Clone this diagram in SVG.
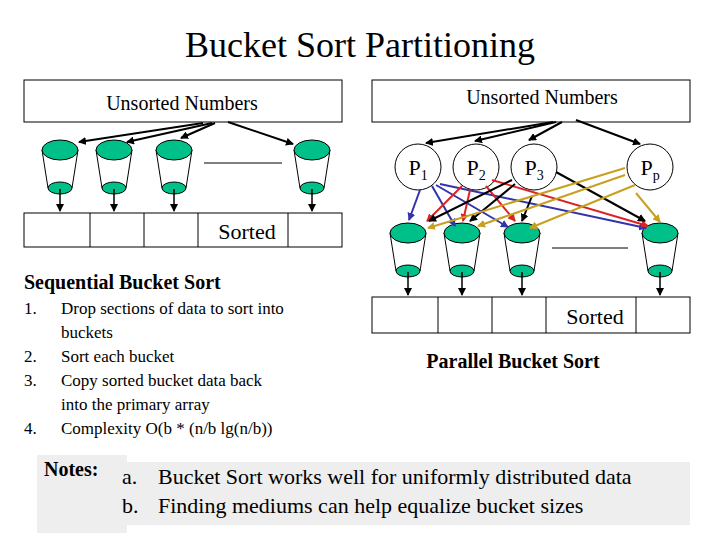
<svg xmlns="http://www.w3.org/2000/svg" width="720" height="540" viewBox="0 0 720 540" font-family="'Liberation Serif', 'Times New Roman', 'DejaVu Serif', serif">
<defs>
<marker id="ak" markerWidth="8" markerHeight="8" refX="7" refY="4" orient="auto" markerUnits="userSpaceOnUse"><path d="M0,0 L8,4 L0,8 z" fill="#000"/></marker>
<marker id="ab" markerWidth="8" markerHeight="8" refX="7" refY="4" orient="auto" markerUnits="userSpaceOnUse"><path d="M0,0 L8,4 L0,8 z" fill="#3333aa"/></marker>
<marker id="ar" markerWidth="8" markerHeight="8" refX="7" refY="4" orient="auto" markerUnits="userSpaceOnUse"><path d="M0,0 L8,4 L0,8 z" fill="#dd2222"/></marker>
<marker id="ag" markerWidth="8" markerHeight="8" refX="7" refY="4" orient="auto" markerUnits="userSpaceOnUse"><path d="M0,0 L8,4 L0,8 z" fill="#c8a020"/></marker>
<g id="bucket">
<path d="M-18,0 L-12,38 M18,0 L12,38" stroke="#000" fill="none"/>
<ellipse cx="0" cy="0" rx="18" ry="10" fill="#00c08a" stroke="#000"/>
<ellipse cx="0" cy="38" rx="12" ry="6" fill="#00c08a" stroke="#000"/>
</g>
</defs>
<style>
text{font-family:'Liberation Serif','Times New Roman','DejaVu Serif',serif;fill:#000}
.box{fill:#fff;stroke:#000;stroke-width:1}
.k{stroke:#000;stroke-width:2;fill:none;marker-end:url(#ak)}
.d{stroke:#000;stroke-width:1.5;fill:none;marker-end:url(#ak)}
.b{stroke:#3333aa;stroke-width:2;fill:none;marker-end:url(#ab)}
.r{stroke:#dd2222;stroke-width:2;fill:none;marker-end:url(#ar)}
.g{stroke:#c8a020;stroke-width:2;fill:none;marker-end:url(#ag)}
</style>
<rect width="720" height="540" fill="#fff"/>
<text x="360" y="57" font-size="36" text-anchor="middle">Bucket Sort Partitioning</text>

<g id="left-top"><rect class="box" x="24" y="80" width="318" height="42"/><text x="182" y="110" font-size="20" text-anchor="middle">Unsorted Numbers</text></g>
<g id="lb1"><use href="#bucket" x="60" y="150"/></g>
<g id="lb2"><use href="#bucket" x="114" y="150"/></g>
<g id="lb3"><use href="#bucket" x="174" y="150"/></g>
<g id="lb4"><use href="#bucket" x="312" y="150"/></g>
<line x1="204" y1="163" x2="282" y2="163" stroke="#000"/>
<g id="left-array"><rect class="box" x="24" y="213" width="318" height="34"/>
<path d="M90,213V247M144,213V247M198,213V247M288,213V247" stroke="#000"/>
<text x="247" y="239" font-size="22" text-anchor="middle">Sorted</text></g>

<g id="right-top"><rect class="box" x="372" y="80" width="318" height="42"/><text x="542" y="104" font-size="20" text-anchor="middle">Unsorted Numbers</text></g>
<g id="p1"><circle cx="418" cy="167" r="23" class="box"/><text x="418" y="175" font-size="22" text-anchor="middle">P<tspan font-size="14" dy="5">1</tspan></text></g>
<g id="p2"><circle cx="476" cy="167" r="23" class="box"/><text x="476" y="175" font-size="22" text-anchor="middle">P<tspan font-size="14" dy="5">2</tspan></text></g>
<g id="p3"><circle cx="534" cy="167" r="23" class="box"/><text x="534" y="175" font-size="22" text-anchor="middle">P<tspan font-size="14" dy="5">3</tspan></text></g>
<g id="pp"><circle cx="650" cy="167" r="23" class="box"/><text x="650" y="175" font-size="22" text-anchor="middle">P<tspan font-size="14" dy="5">p</tspan></text></g>
<g id="rb1"><use href="#bucket" x="408" y="233"/></g>
<g id="rb2"><use href="#bucket" x="462" y="233"/></g>
<g id="rb3"><use href="#bucket" x="522" y="233"/></g>
<g id="rb4"><use href="#bucket" x="660" y="233"/></g>
<line x1="552" y1="248" x2="628" y2="248" stroke="#000"/>
<g id="right-array"><rect class="box" x="372" y="297" width="318" height="36"/>
<path d="M438,297V333M492,297V333M546,297V333M636,297V333" stroke="#000"/>
<text x="595" y="324" font-size="22" text-anchor="middle">Sorted</text></g>

<g id="connectors">
<path class="k" d="M203,123L79,142"/><path class="k" d="M212,123L127,142"/><path class="k" d="M215,123L181,138"/><path class="k" d="M228,122L293,144"/>
<path class="d" d="M60,189V211"/><path class="d" d="M114,189V211"/><path class="d" d="M174,189V211"/><path class="d" d="M312,189V211"/>
<path class="k" d="M553,122L426,143"/><path class="k" d="M556,122L475,141"/><path class="k" d="M562,122L529,140"/><path class="k" d="M576,120L640,144"/>
<path class="d" d="M408,272V295"/><path class="d" d="M462,272V295"/><path class="d" d="M522,272V295"/><path class="d" d="M660,272V295"/>
<path class="b" d="M420,190L409,220"/><path class="b" d="M432,186L455,226"/><path class="b" d="M436,185L508,227"/><path class="b" d="M440,184L646,228"/>
<path class="r" d="M462,186L427,221"/><path class="r" d="M470,190L463,221"/><path class="r" d="M486,186L515,221"/><path class="r" d="M492,180L648,226"/>
<path class="k" d="M512,180L429,221"/><path class="k" d="M515,184L470,221"/><path class="k" d="M532,196L522,221"/><path class="k" d="M556,172L645,221"/>
<path class="g" d="M625,168L428,228"/><path class="g" d="M625,175L478,226"/><path class="g" d="M635,185L530,228"/><path class="g" d="M636,193L660,222"/>
</g>

<text x="24" y="289" font-size="20" font-weight="bold">Sequential Bucket Sort</text>
<g font-size="17">
<text x="24" y="314">1.</text><text x="61" y="314">Drop sections of data to sort into</text>
<text x="61" y="338">buckets</text>
<text x="24" y="362">2.</text><text x="61" y="362">Sort each bucket</text>
<text x="24" y="386">3.</text><text x="61" y="386">Copy sorted bucket data back</text>
<text x="61" y="410">into the primary array</text>
<text x="24" y="434">4.</text><text x="61" y="434">Complexity O(b * (n/b lg(n/b))</text>
</g>
<text x="513" y="368" font-size="20" font-weight="bold" text-anchor="middle">Parallel Bucket Sort</text>

<rect x="37" y="455" width="90" height="78" fill="#eeeeee"/>
<rect x="127" y="462" width="563" height="63" fill="#eeeeee"/>
<text x="44" y="476" font-size="20" font-weight="bold">Notes:</text>
<g font-size="22">
<text x="122" y="484">a.</text><text x="158" y="484">Bucket Sort works well for uniformly distributed data</text>
<text x="122" y="513">b.</text><text x="158" y="513">Finding mediums can help equalize bucket sizes</text>
</g>
</svg>
